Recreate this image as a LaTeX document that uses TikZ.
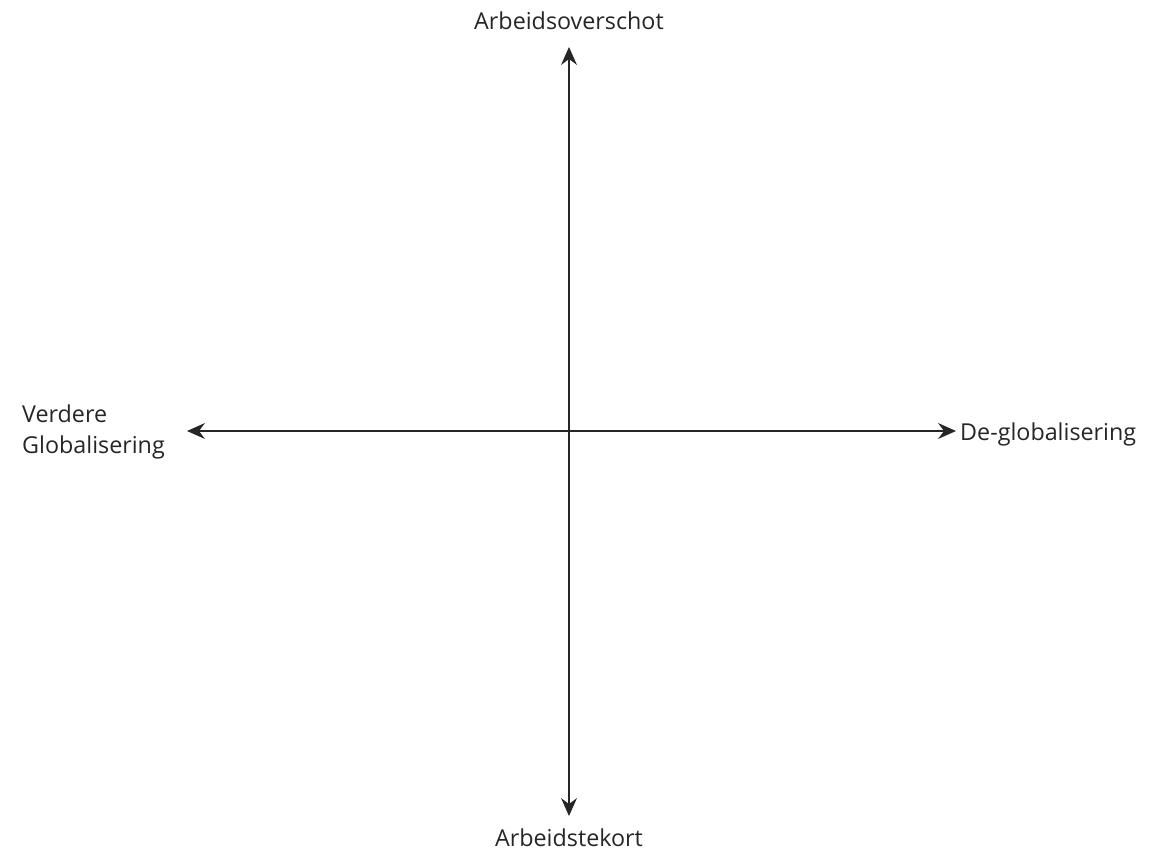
\documentclass[tikz,border=0pt]{standalone}
\usepackage{fontspec}
\setmainfont{Open Sans}
\begin{document}
\begin{tikzpicture}[x=1pt,y=1pt,
  axis/.style={line width=2pt,draw=black!85,shorten <=12pt,shorten >=12pt},
  ahead/.pic={\fill[black!85] (0,0) -- (-18,8) -- (-12,0) -- (-18,-8) -- cycle;},
  lbl/.style={font=\fontsize{23.3}{31}\selectfont,text=black!85,inner sep=0pt}]
\useasboundingbox[fill=white] (0,0) rectangle (1156,-854);
\coordinate (t) at (569,-47);
\coordinate (b) at (569,-816);
\coordinate (l) at (187,-431);
\coordinate (r) at (956,-431);
\draw[axis] (t) -- (b);
\draw[axis] (l) -- (r);
\pic[rotate=90] at (t) {ahead};
\pic[rotate=-90] at (b) {ahead};
\pic[rotate=180] at (l) {ahead};
\pic at (r) {ahead};
\node[lbl,anchor=south] (top) at (569,-30) {Arbeidsoverschot};
\node[lbl,anchor=north] (bot) at (569,-829) {Arbeidstekort};
\node[lbl,anchor=west,align=left] (left) at (22,-432) {Verdere\\Globalisering};
\node[lbl,anchor=west] (right) at (960,-434) {De-globalisering};
\end{tikzpicture}
\end{document}
